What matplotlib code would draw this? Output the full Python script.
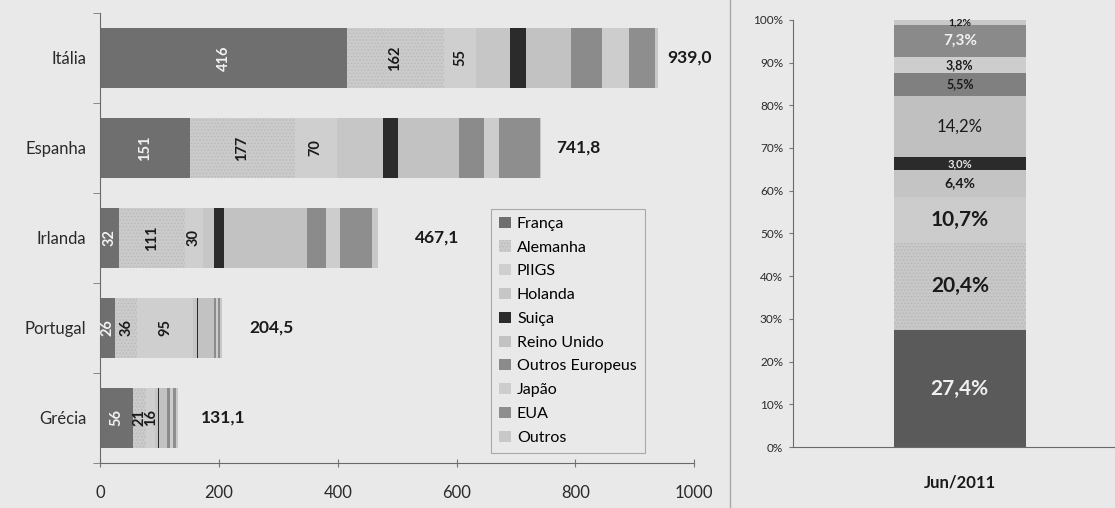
import matplotlib.pyplot as plt
import numpy as np

plt.rcParams['font.family'] = ['Lato', 'DejaVu Sans']
plt.rcParams['hatch.linewidth'] = 0.6

countries = ['Itália', 'Espanha', 'Irlanda', 'Portugal', 'Grécia']
creditors = ['França', 'Alemanha', 'PIIGS', 'Holanda', 'Suiça', 'Reino Unido',
             'Outros Europeus', 'Japão', 'EUA', 'Outros']

# exposure (bn) per creditor, one list per creditor, order of countries
franca = [416, 151, 32, 26, 56]
alemanha = [162, 177, 111, 36, 21]
piigs = [55, 70, 30, 95, 16]
holanda = [57, 79, 18, 6, 4]
suica = [27, 25, 17, 2, 2]
reino_unido = [75, 102, 141, 26, 14]
outros_eur = [53, 42, 32, 5, 5]
japao = [45, 26, 22, 3, 4]
eua = [44, 69, 54, 3, 6]
outros = [5, 0.8, 10.1, 2.5, 3.1]
totals = [939.0, 741.8, 467.1, 204.5, 131.1]

# share of total, Jun/2011
shares = [27.4, 20.4, 10.7, 6.4, 3.0, 14.2, 5.5, 3.8, 7.3, 1.2]

series = [franca, alemanha, piigs, holanda, suica, reino_unido,
          outros_eur, japao, eua, outros]
colors = ['#6f6f6f', '#cbcbcb', '#cfcfcf', '#c6c6c6', '#2b2b2b', '#c2c2c2',
          '#8b8b8b', '#cdcdcd', '#8e8e8e', '#c8c8c8']
hatches = [None, '.....', None, None, None, None, None, None, None, None]
bg = '#e9e9e9'

# where the total labels sit (left edge, in axis units)
total_x = [955, 768, 530, 252, 170]

fig = plt.figure(figsize=(11.15, 5.08), dpi=100, facecolor=bg)

# ---- left: horizontal stacked bars ----
ax = fig.add_axes([0.0897, 0.0886, 0.533, 0.886])
ax.set_facecolor('none')
y = np.arange(len(countries))
left = np.zeros(len(countries))
for i, (name, vals) in enumerate(zip(creditors, series)):
    vals = np.array(vals, dtype=float)
    ax.barh(y, vals, left=left, height=0.667, color=colors[i], label=name,
            hatch=hatches[i], edgecolor='#b9b9b9' if hatches[i] else colors[i],
            linewidth=0)
    if i < 3:
        for yy, l, v in zip(y, left, vals):
            ax.text(l + v / 2, yy, f'{v:.0f}', rotation=90, ha='center', va='center',
                    fontsize=10.5, fontweight='bold',
                    color='#f2f2f2' if i == 0 else '#1a1a1a')
    left += vals

for yy, t, tx in zip(y, totals, total_x):
    ax.text(tx, yy, f'{t:.1f}'.replace('.', ','), ha='left', va='center',
            fontsize=12.5, fontweight='bold', color='#1a1a1a')

ax.set_xlim(0, 1000)
ax.set_ylim(4.5, -0.5)
ax.set_xticks(np.arange(0, 1001, 200))
ax.set_xticklabels([str(v) for v in range(0, 1001, 200)], fontsize=12, color='#2a2a2a')
ax.set_yticks(y)
ax.set_yticklabels(countries, fontsize=12, color='#2a2a2a')
ax.set_yticks(np.arange(-0.5, 5, 1), minor=True)
ax.tick_params(axis='y', which='major', length=0, pad=10)
ax.tick_params(axis='y', which='minor', length=5, direction='out', color='#777777')
ax.tick_params(axis='x', length=6, direction='inout', color='#777777', pad=13)
for s in ['left', 'bottom']:
    ax.spines[s].set_color('#6a6a6a')
for s in ['top', 'right']:
    ax.spines[s].set_visible(False)

leg = ax.legend(loc='lower right', bbox_to_anchor=(0.93, 0.005), fontsize=11.5,
                frameon=True, fancybox=False, edgecolor='#9a9a9a', facecolor=bg,
                handlelength=0.7, handleheight=0.7, handletextpad=0.4,
                labelspacing=0.6, borderpad=0.5)
leg.get_frame().set_linewidth(0.8)

# border between the two charts
fig.add_artist(plt.Line2D([0.655, 0.655], [0.0, 1.0], color='#a8a8a8', lw=1))

# ---- right: 100% stacked column ----
ax2 = fig.add_axes([0.711, 0.120, 0.2996, 0.841])
ax2.set_facecolor('none')
bottom = 0.0
size_map = [15, 15, 15, 10, 8, 12, 9, 9, 11, 7.5]
text_cols = ['#f0f0f0', '#1a1a1a', '#1a1a1a', '#1a1a1a', '#e6e6e6', '#1a1a1a',
             '#1a1a1a', '#1a1a1a', '#f2f2f2', '#1a1a1a']
colors2 = ['#5a5a5a', '#c8c8c8', '#cccccc', '#c4c4c4', '#2b2b2b', '#c0c0c0',
           '#808080', '#cdcdcd', '#8a8a8a', '#c8c8c8']
for i, v in enumerate(shares):
    f = v / 100
    ax2.bar(0, f, bottom=bottom, width=0.395, color=colors2[i],
            hatch=hatches[i], edgecolor='#b6b6b6' if hatches[i] else colors2[i],
            linewidth=0)
    ax2.text(0, bottom + f / 2, f'{v:.1f}%'.replace('.', ','), ha='center',
             va='center', fontsize=size_map[i],
             fontweight='normal' if i == 5 else 'bold', color=text_cols[i])
    bottom += f

ax2.set_xlim(-0.5, 0.5)
ax2.set_ylim(0, 1)
ax2.set_yticks(np.arange(0, 1.01, 0.1))
ax2.set_yticklabels([f'{p}%' for p in range(0, 101, 10)], fontsize=8.5, color='#2a2a2a')
ax2.set_xticks([0])
ax2.set_xticklabels(['Jun/2011'], fontsize=12, fontweight='bold', color='#1a1a1a')
ax2.tick_params(axis='y', length=3, direction='out', color='#777777', pad=4)
ax2.tick_params(axis='x', length=0, pad=20)
ax2.spines['top'].set_visible(False)
ax2.spines['right'].set_visible(False)
for s in ['left', 'bottom']:
    ax2.spines[s].set_color('#6a6a6a')

fig.savefig('out.png', dpi=100, facecolor=bg)
